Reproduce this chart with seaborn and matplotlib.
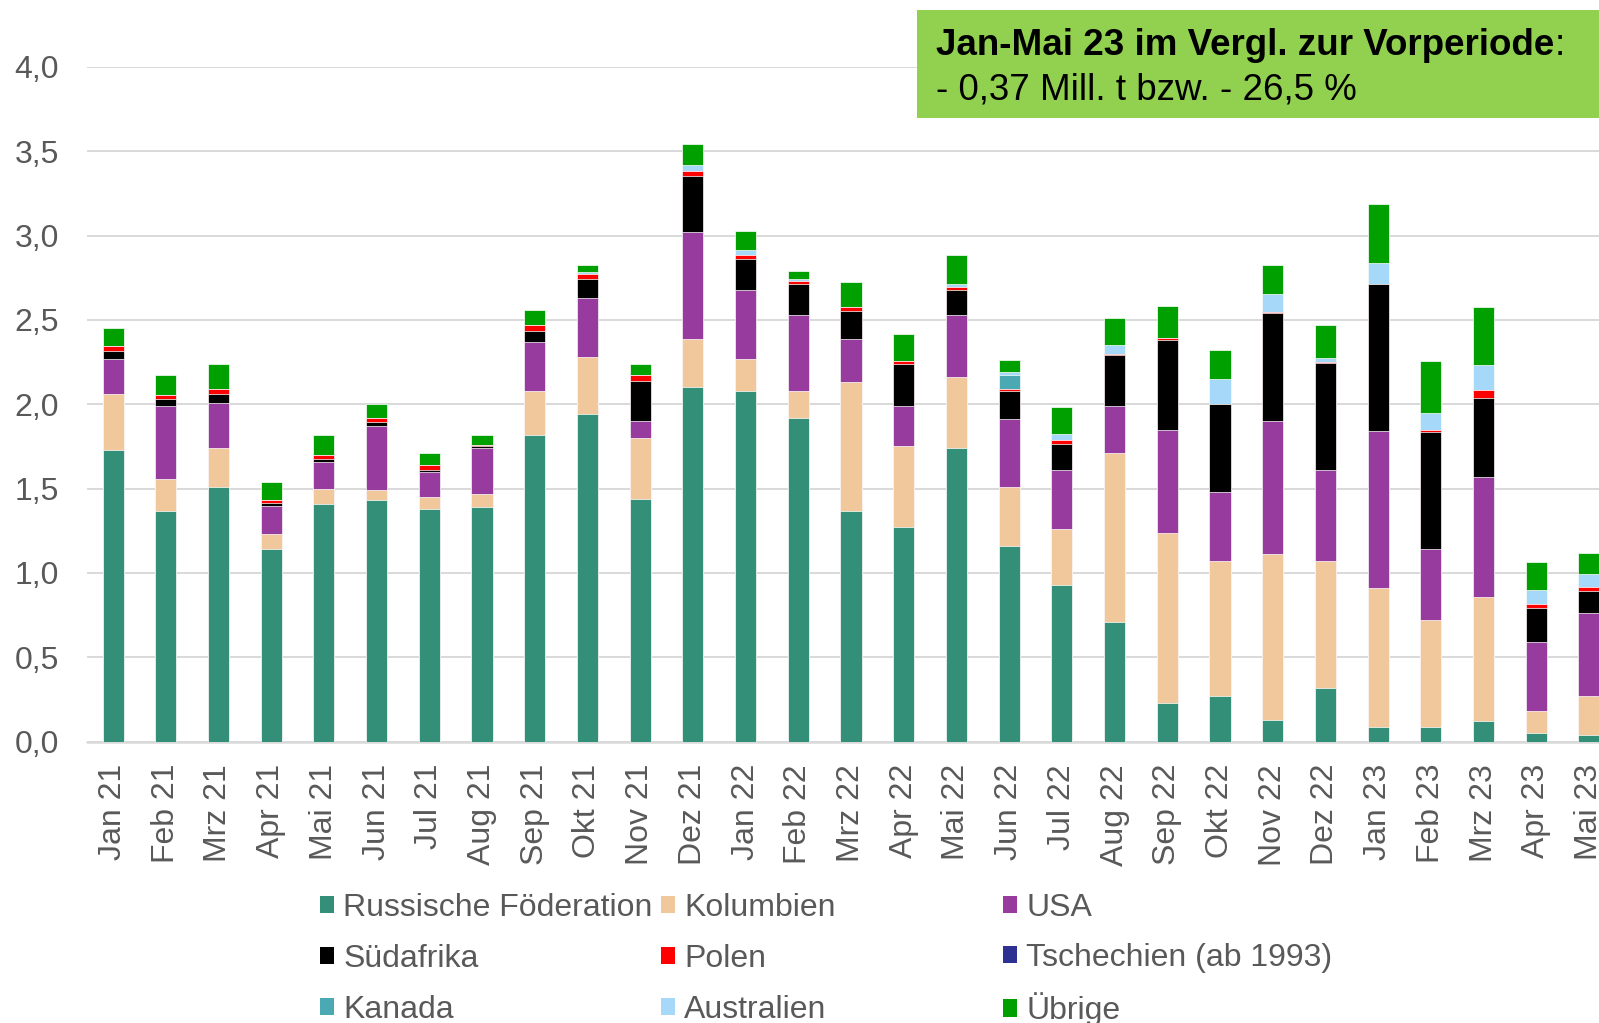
import matplotlib
matplotlib.use("Agg")
import matplotlib.pyplot as plt
import seaborn as sns
import numpy as np
import pandas as pd
from matplotlib.patches import Patch, Rectangle

# ---------------- data ----------------
months = ["Jan 21", "Feb 21", "Mrz 21", "Apr 21", "Mai 21", "Jun 21", "Jul 21", "Aug 21",
          "Sep 21", "Okt 21", "Nov 21", "Dez 21",
          "Jan 22", "Feb 22", "Mrz 22", "Apr 22", "Mai 22", "Jun 22", "Jul 22", "Aug 22",
          "Sep 22", "Okt 22", "Nov 22", "Dez 22",
          "Jan 23", "Feb 23", "Mrz 23", "Apr 23", "Mai 23"]

russland = [1.73, 1.37, 1.51, 1.14, 1.41, 1.43, 1.38, 1.39, 1.82, 1.94, 1.44, 2.10,
            2.08, 1.92, 1.37, 1.27, 1.74, 1.16, 0.93, 0.71, 0.23, 0.27, 0.13, 0.32,
            0.09, 0.09, 0.12, 0.05, 0.04]
kolumbien = [0.33, 0.19, 0.23, 0.09, 0.09, 0.06, 0.07, 0.08, 0.26, 0.34, 0.36, 0.29,
             0.19, 0.16, 0.76, 0.48, 0.42, 0.35, 0.33, 1.00, 1.01, 0.80, 0.98, 0.75,
             0.82, 0.63, 0.74, 0.13, 0.23]
usa = [0.21, 0.43, 0.27, 0.17, 0.16, 0.38, 0.15, 0.27, 0.29, 0.35, 0.10, 0.63,
       0.41, 0.45, 0.26, 0.24, 0.37, 0.40, 0.35, 0.28, 0.61, 0.41, 0.79, 0.54,
       0.93, 0.42, 0.71, 0.41, 0.49]
suedafrika = [0.045, 0.040, 0.050, 0.016, 0.016, 0.027, 0.012, 0.012, 0.065, 0.115, 0.236, 0.332,
              0.183, 0.183, 0.161, 0.246, 0.148, 0.167, 0.153, 0.302, 0.530, 0.519, 0.639, 0.635,
              0.876, 0.698, 0.470, 0.204, 0.136]
polen = [0.030, 0.025, 0.028, 0.016, 0.024, 0.020, 0.031, 0.008, 0.033, 0.028, 0.038, 0.031,
         0.023, 0.016, 0.028, 0.023, 0.016, 0.013, 0.023, 0.006, 0.013, 0.004, 0.011, 0.008,
         0.000, 0.011, 0.047, 0.020, 0.019]
tschechien = [0.0] * 29
kanada = [0, 0, 0, 0, 0, 0, 0, 0, 0, 0, 0, 0,
          0, 0, 0, 0, 0, 0.084, 0, 0, 0, 0, 0, 0,
          0, 0, 0, 0, 0]
australien = [0, 0, 0, 0, 0, 0, 0, 0, 0, 0.010, 0, 0.037,
              0.031, 0.012, 0, 0, 0.019, 0.015, 0.039, 0.052, 0, 0.146, 0.101, 0.024,
              0.123, 0.099, 0.147, 0.088, 0.080]
uebrige = [0.107, 0.120, 0.148, 0.108, 0.118, 0.083, 0.068, 0.059, 0.089, 0.042, 0.063, 0.122,
           0.110, 0.052, 0.143, 0.155, 0.171, 0.072, 0.157, 0.161, 0.187, 0.172, 0.177, 0.192,
           0.349, 0.308, 0.344, 0.166, 0.122]

series_names = ["Russische Föderation", "Kolumbien", "USA", "Südafrika", "Polen",
                "Tschechien (ab 1993)", "Kanada", "Australien", "Übrige"]
series_values = [russland, kolumbien, usa, suedafrika, polen, tschechien, kanada, australien, uebrige]
colors = ["#338f78", "#f0c89b", "#973c9e", "#000000", "#ff0000",
          "#2e3192", "#4aa9b2", "#a6d8fa", "#00a000"]

yticks = [0.0, 0.5, 1.0, 1.5, 2.0, 2.5, 3.0, 3.5, 4.0]
ytick_labels = ["0,0", "0,5", "1,0", "1,5", "2,0", "2,5", "3,0", "3,5", "4,0"]

box_line1 = "Jan-Mai 23 im Vergl. zur Vorperiode"
box_colon = ":"
box_line2 = "- 0,37 Mill. t bzw. - 26,5 %"

# ---------------- style ----------------
sns.set_theme(style="white")
plt.rcParams['font.family'] = ['Liberation Sans', 'DejaVu Sans']

W, H = 1599, 1023
fig = plt.figure(figsize=(W / 100, H / 100), dpi=100)
fig.patch.set_facecolor("white")
ax = fig.add_axes([86.7 / W, 1 - 741.7 / H, 1528.6 / W, 674.8 / H])

stack = np.array(series_values, dtype=float)
cum = np.cumsum(stack, axis=0)

for i in reversed(range(len(series_names))):
    df = pd.DataFrame({"Monat": months, "Wert": cum[i]})
    sns.barplot(data=df, x="Monat", y="Wert", order=months, color=colors[i],
                saturation=1, width=0.4, errorbar=None,
                edgecolor="white", linewidth=0.5, ax=ax, zorder=3)

ax.set_xlim(-0.5, len(months) - 0.5)
ax.set_ylim(0, 4.0)
ax.set_yticks(yticks)
ax.set_yticklabels(ytick_labels)
ax.set_xlabel("")
ax.set_ylabel("")
for s in ax.spines.values():
    s.set_visible(False)
ax.yaxis.grid(True, color="#d9d9d9", linewidth=1.4)
ax.xaxis.grid(False)
ax.set_axisbelow(True)
ax.axhline(0, color="#d9d9d9", linewidth=1.8, zorder=2, clip_on=False)
ax.tick_params(axis="y", length=0, pad=20, labelsize=23, labelcolor="#595959")
ax.tick_params(axis="x", length=0, pad=16, labelsize=23, labelcolor="#595959",
               labelrotation=90)

# ---------------- legend (3 columns, row-major order) ----------------
col_groups = [[0, 3, 6], [1, 4, 7], [2, 5, 8]]
col_x = [320, 661, 1003]
col_y = [893, 893, 893]
col_spacing = [0.65, 0.65, 0.62]
for grp, x, y, sp in zip(col_groups, col_x, col_y, col_spacing):
    handles = [Patch(facecolor=colors[i], edgecolor="none") for i in grp]
    labels = [series_names[i] for i in grp]
    fig.legend(handles, labels, loc="upper left", bbox_to_anchor=(x / W, 1 - y / H),
               frameon=False, fontsize=23, handlelength=0.45, handleheight=0.45,
               handletextpad=0.28, labelspacing=sp,
               borderpad=0, borderaxespad=0, labelcolor="#595959")

# ---------------- green info box ----------------
fig.add_artist(Rectangle((917 / W, 1 - 118.3 / H), (1700 - 917) / W, 108 / H,
                         transform=fig.transFigure, facecolor="#92d050",
                         edgecolor="none", zorder=5))
t1 = fig.text(936 / W, 1 - 55 / H, box_line1, fontsize=26.5, fontweight="bold",
              color="black", va="baseline", ha="left", zorder=6)
fig.canvas.draw()
bb = t1.get_window_extent(renderer=fig.canvas.get_renderer())
fig.text(bb.x1 / W, 1 - 55 / H, box_colon, fontsize=26.5,
         color="black", va="baseline", ha="left", zorder=6)
fig.text(936 / W, 1 - 100 / H, box_line2, fontsize=26.5,
         color="black", va="baseline", ha="left", zorder=6)

fig.savefig("out.png", dpi=100)
